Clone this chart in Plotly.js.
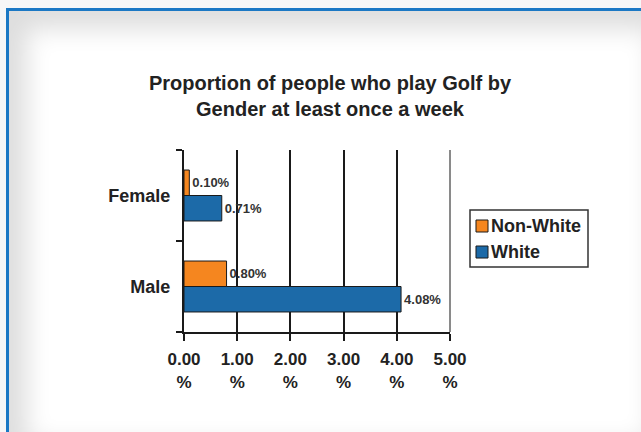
<!DOCTYPE html>
<html>
<head>
<meta charset="utf-8">
<script src="https://cdn.plot.ly/plotly-3.0.1.min.js"></script>
<style>
  html, body { margin: 0; padding: 0; width: 641px; height: 432px; overflow: hidden; background: #f7f7f7; }
  #frame {
    position: absolute; left: 6px; top: 8px; width: 660px; height: 450px;
    border-left: 3px solid #1b78c4; border-top: 3px solid #1b78c4;
    background: #ffffff;
    box-shadow: inset 0 0 24px 18px #dedede;
  }
  #chart { position: absolute; left: 0; top: 0; width: 641px; height: 432px; }
</style>
</head>
<body>
<div id="frame"></div>
<div id="chart"></div>
<script>
// Weekly golf participation by gender, split by ethnic group (percent of people)
const genders = ['Male', 'Female'];
const seriesNames = ['White', 'Non-White'];
const whiteValues = [4.08, 0.71];
const nonWhiteValues = [0.80, 0.10];
const seriesColors = { 'White': '#1c6aa8', 'Non-White': '#f5861f' };
const xTickValues = [0, 1, 2, 3, 4, 5];
const xTickLabels = xTickValues.map(v => v.toFixed(2) + '<br>%');

const FONT = 'Arial, "Liberation Sans", sans-serif';
const INK = '#222222';

function barTrace(name, values) {
  return {
    type: 'bar',
    orientation: 'h',
    name: name,
    y: genders,
    x: values,
    marker: { color: seriesColors[name], line: { color: '#1a1a1a', width: 1 } },
    texttemplate: '%{x:.2f}%',
    textposition: 'outside',
    textfont: { family: FONT, size: 13, color: '#333333', weight: 'bold' },
    cliponaxis: false,
    hoverinfo: 'none'
  };
}

const data = [
  barTrace('White', whiteValues),
  barTrace('Non-White', nonWhiteValues)
];

// Legend box drawn on the right of the plot (Non-White listed first)
const legendOrder = ['Non-White', 'White'];
const shapes = [
  // lighter right-hand border of the plot area
  { type: 'line', xref: 'paper', yref: 'paper', x0: 1, x1: 1, y0: 0, y1: 1,
    line: { color: '#8a8a8a', width: 2 }, layer: 'above' },
  // legend frame
  { type: 'rect', xref: 'paper', yref: 'paper',
    x0: 1.0752, x1: 1.5188, y0: 0.3571, y1: 0.6703,
    line: { color: '#333333', width: 1.5 }, fillcolor: '#ffffff', layer: 'below' }
];
const annotations = [];
legendOrder.forEach((name, i) => {
  const cy = 0.5824 - i * 0.1429;
  shapes.push({ type: 'rect', xref: 'paper', yref: 'paper',
    x0: 1.0977, x1: 1.1429, y0: cy - 0.033, y1: cy + 0.033,
    fillcolor: seriesColors[name], line: { color: '#1a1a1a', width: 1 } });
  annotations.push({ xref: 'paper', yref: 'paper', x: 1.148, y: cy,
    xanchor: 'left', yanchor: 'middle', showarrow: false, text: name,
    font: { family: FONT, size: 18, color: INK, weight: 'bold' } });
});

const layout = {
  width: 641, height: 432,
  margin: { l: 184, r: 191, t: 150, b: 100 },
  paper_bgcolor: 'rgba(0,0,0,0)',
  plot_bgcolor: 'rgba(0,0,0,0)',
  showlegend: false,
  barmode: 'group',
  bargap: 0.44,
  bargroupgap: 0,
  title: {
    text: 'Proportion of people who play Golf by<br>Gender at least once a week',
    font: { family: FONT, size: 20, color: INK, weight: 'bold' },
    xref: 'container', x: 330 / 641, xanchor: 'center',
    yref: 'container', y: 1 - 90 / 432, yanchor: 'top'
  },
  xaxis: {
    range: [0, 5],
    tickmode: 'array', tickvals: xTickValues, ticktext: xTickLabels,
    showgrid: true, gridcolor: '#1a1a1a', gridwidth: 2,
    showline: true, linecolor: '#1a1a1a', linewidth: 2,
    ticks: 'outside', ticklen: 7, tickcolor: '#1a1a1a', tickwidth: 2,
    zeroline: false,
    ticklabelstandoff: 4,
    tickfont: { family: FONT, size: 17, color: INK, weight: 'bold' },
    fixedrange: true
  },
  yaxis: {
    type: 'category',
    categoryorder: 'array', categoryarray: genders,
    showline: true, linecolor: '#1a1a1a', linewidth: 2,
    ticks: 'outside', tickson: 'boundaries', ticklen: 6, tickcolor: '#1a1a1a', tickwidth: 2,
    showgrid: false, zeroline: false,
    ticklabelstandoff: 8,
    tickfont: { family: FONT, size: 18, color: INK, weight: 'bold' },
    fixedrange: true
  },
  shapes: shapes,
  annotations: annotations
};

Plotly.newPlot('chart', data, layout, { staticPlot: true, displayModeBar: false });
</script>
</body>
</html>
